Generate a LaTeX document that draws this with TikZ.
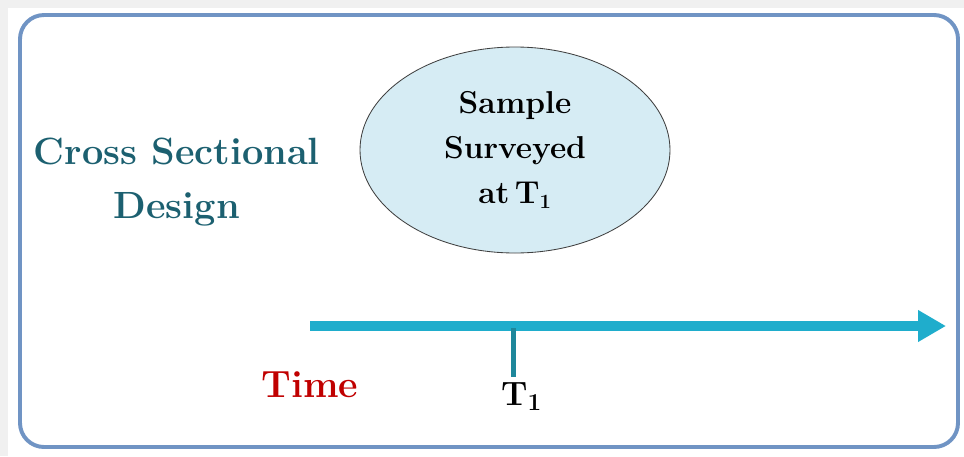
\documentclass[tikz,border=0pt]{standalone}
\usepackage{xcolor}
\definecolor{frameblue}{RGB}{112,148,196}
\definecolor{axisblue}{RGB}{31,173,204}
\definecolor{tickteal}{RGB}{30,135,155}
\definecolor{headteal}{RGB}{28,96,112}
\definecolor{timered}{RGB}{192,0,0}
\definecolor{samplefill}{RGB}{214,236,244}
\usepackage{tikz}
\usetikzlibrary{arrows.meta, positioning, shapes.geometric}

\begin{document}
\begin{tikzpicture}[
  font=\bfseries,
  frame/.style={draw=frameblue, line width=2.8pt, rounded corners=0.6cm},
  sample/.style={ellipse, draw=black!75, line width=0.6pt, fill=samplefill,
                 minimum width=7.75cm, minimum height=5.15cm, inner sep=0pt,
                 align=center, font=\fontsize{22.5}{32}\selectfont\bfseries},
  design/.style={align=center, text=headteal,
                 font=\fontsize{27}{39}\selectfont\bfseries},
  axis/.style={draw=axisblue, line width=7pt,
               -{Triangle[length=0.7cm, width=0.75cm]}},
  tick/.style={draw=tickteal, line width=4pt},
]
\useasboundingbox (0,0) rectangle (24.1,-11.4);

%% --- fond et cadre ---
\fill[black!6] (0,0) rectangle (24.1,-0.2);
\fill[black!6] (0,0) rectangle (0.2,-11.4);
\draw[frame] (0.5,-0.375) rectangle (23.95,-11.175);

%% --- titre et echantillon ---
\node[design] (title) at (4.42,-4.55) {Cross Sectional\\Design};
\node[sample] (samp) at (12.875,-3.75) {Sample\\Surveyed\\at\,T$_{\mathbf 1}$};

%% --- axe du temps ---
\coordinate (t0) at (7.75,-8.15);
\coordinate (t1) at (23.65,-8.15);
\draw[axis] (t0) -- (t1);

\coordinate (tickA) at (12.84,-8.2);
\coordinate (tickB) at (12.84,-9.42);
\draw[tick] (tickA) -- (tickB);
\node[font=\fontsize{24}{28}\selectfont\bfseries, below=0.02cm of tickB, xshift=0.2cm] (tlab) {T$_{\mathbf 1}$};

\node[text=timered, font=\fontsize{27}{30}\selectfont\bfseries] (time) at (7.75,-9.62) {Time};
\end{tikzpicture}
\end{document}
